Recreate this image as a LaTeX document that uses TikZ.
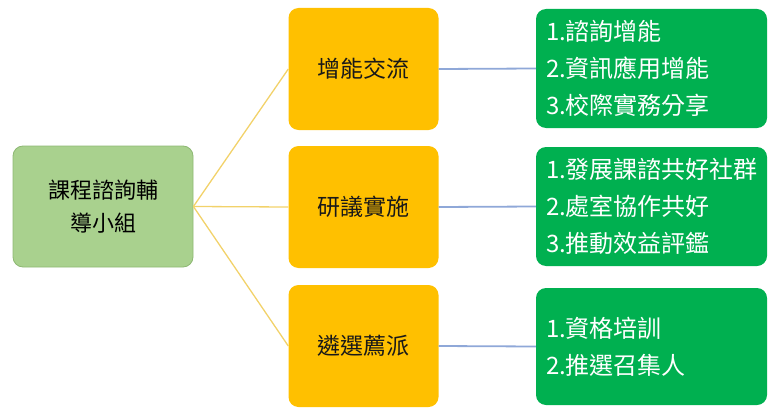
\documentclass[tikz,border=0pt]{standalone}
\usepackage{fontspec}
\newfontfamily\cjk{Noto Sans CJK TC}
\definecolor{rootfill}{HTML}{A9D18E}
\definecolor{rootdraw}{HTML}{8DB873}
\definecolor{orangefill}{HTML}{FFC000}
\definecolor{greenfill}{HTML}{00B050}
\definecolor{yline}{HTML}{F2D26A}
\definecolor{bline}{HTML}{8FA8D8}
\begin{document}
\begin{tikzpicture}[x=1pt,y=-1pt,
  rootbox/.style={draw=rootdraw,line width=0.8pt,fill=rootfill,rounded corners=10pt,
    minimum width=180pt,minimum height=121pt,align=center,
    font=\cjk\fontsize{22}{33}\selectfont,text=black},
  midbox/.style={fill=orangefill,rounded corners=10pt,minimum width=150pt,
    minimum height=122pt,font=\cjk\fontsize{23}{30}\selectfont,text=black!90},
  leafbox/.style={fill=greenfill,rounded corners=10pt,minimum width=231pt,
    inner sep=10pt,text width=211pt,align=left,
    font=\cjk\fontsize{24}{37}\selectfont,text=white},
  yconn/.style={draw=yline,line width=1.3pt},
  bconn/.style={draw=bline,line width=1.8pt}]
\useasboundingbox (0,0) rectangle (768,412);
\node[rootbox] (root) at (103,206.5) {課程諮詢輔\\導小組};
\node[midbox] (m1) at (363.5,69) {增能交流};
\node[midbox] (m2) at (363.5,207) {研議實施};
\node[midbox] (m3) at (363.5,346) {遴選薦派};
\node[leafbox,minimum height=119pt] (g1) at (651.5,68.5) {1.諮詢增能\\2.資訊應用增能\\3.校際實務分享};
\node[leafbox,minimum height=119pt] (g2) at (651.5,206.5) {1.發展課諮共好社群\\2.處室協作共好\\3.推動效益評鑑};
\node[leafbox,minimum height=117pt] (g3) at (651.5,346.5) {1.資格培訓\\2.推選召集人};
\draw[yconn] (root.east) -- (m1.west);
\draw[yconn] (root.east) -- (m2.west);
\draw[yconn] (root.east) -- (m3.west);
\draw[bconn] (m1.east) -- (g1.west);
\draw[bconn] (m2.east) -- (g2.west);
\draw[bconn] (m3.east) -- (g3.west);
\end{tikzpicture}
\end{document}
